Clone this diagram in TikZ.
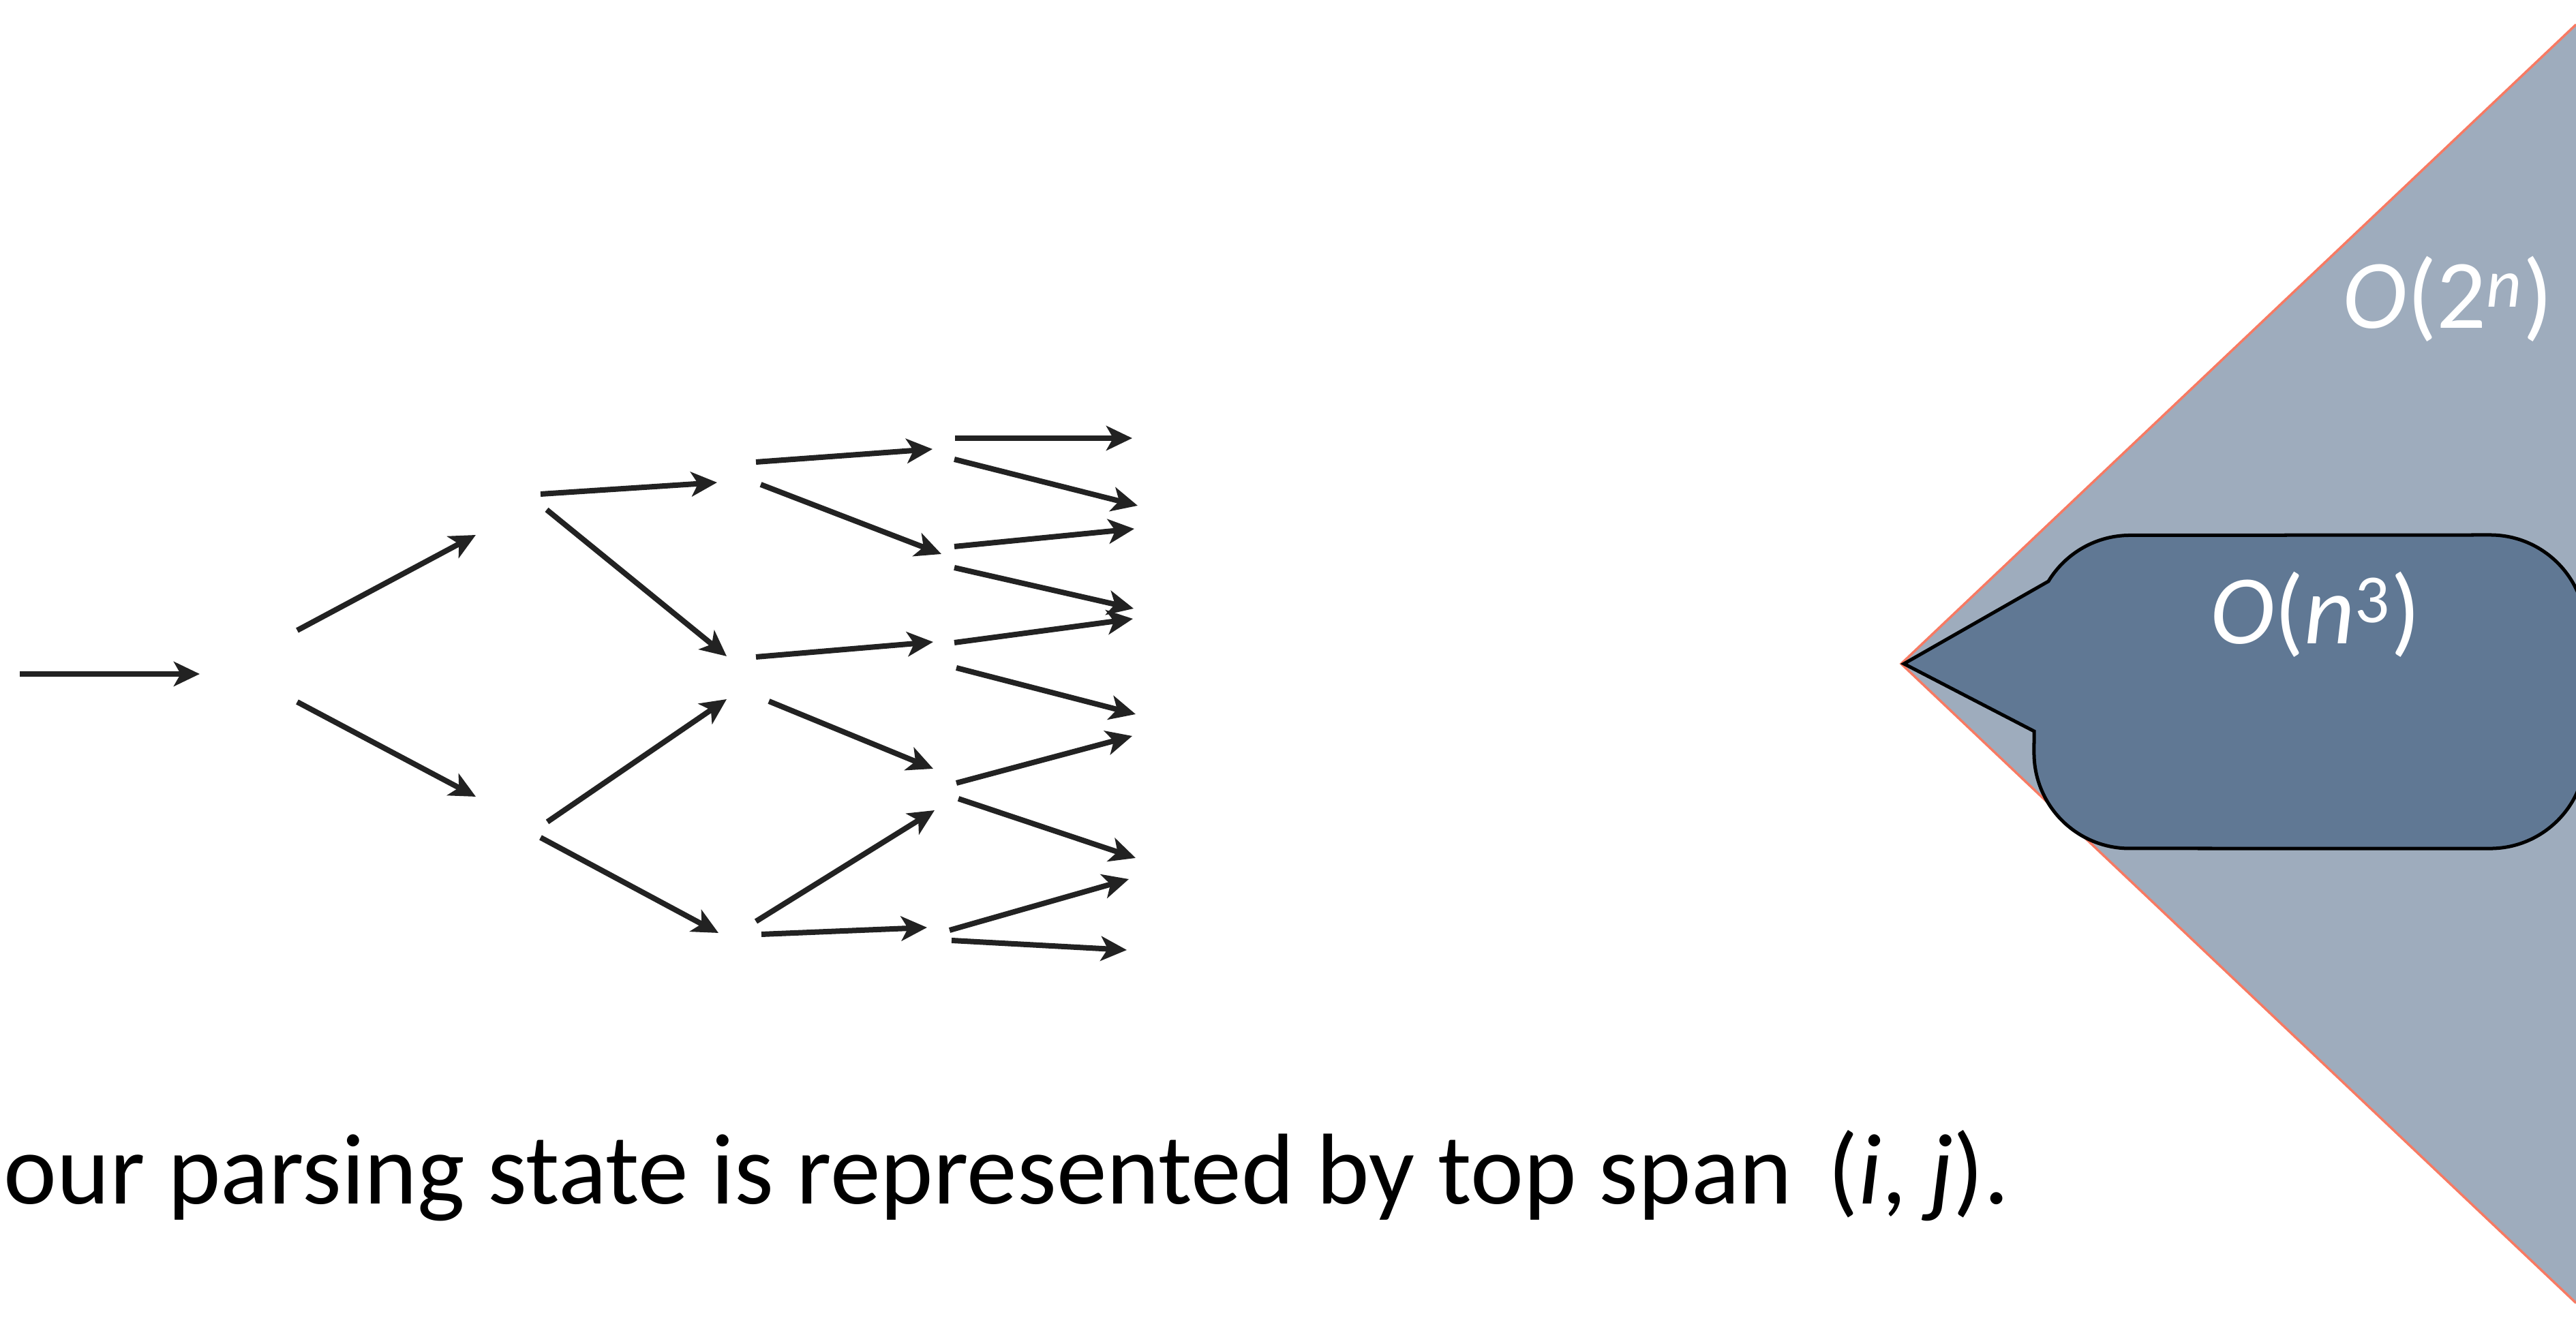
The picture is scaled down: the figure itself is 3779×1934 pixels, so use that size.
\documentclass[tikz,border=0pt]{standalone}
\usepackage{fontspec}
\setmainfont{Carlito}
\usetikzlibrary{arrows.meta}
\definecolor{arrowink}{HTML}{222222}
\definecolor{wedgefill}{HTML}{9EACBD}
\definecolor{wedgeedge}{HTML}{F77A63}
\definecolor{bubblefill}{HTML}{607894}
\begin{document}
\begin{tikzpicture}[x=0.01cm,y=0.01cm,
  branch/.style={draw=arrowink, line width=0.08cm,
    -{Stealth[length=0.38cm,width=0.36cm,inset=0.1cm]}},
  bigtext/.style={inner sep=0pt, font=\fontsize{42}{50}\selectfont},
  whitetext/.style={inner sep=0pt, font=\fontsize{41}{48}\selectfont, text=white, anchor=base}]
\useasboundingbox (0,0) rectangle (3779,1934);

% search tree: every branch is an arrow between two named points
\foreach \k/\sx/\sy/\ex/\ey in {
    1/29/945/293/945,
    2/436/1009/698/1149,   3/436/904/698/765,
    4/793/1209/1052/1226,  5/802/1186/1066/971,
    6/803/728/1066/908,    7/793/705/1054/565,
    8/1109/1256/1368/1275, 9/1116/1223/1381/1121,
    10/1109/970/1369/992,  11/1128/905/1369/806,
    12/1109/582/1371/745,  13/1117/563/1360/573,
    14/1401/1291/1661/1291,15/1400/1260/1669/1192,
    16/1400/1132/1664/1158,17/1400/1101/1663/1041,
    18/1400/991/1662/1026, 19/1403/954/1666/886,
    20/1403/785/1661/854,  21/1406/762/1666/675,
    22/1393/569/1656/644,  23/1396/554/1653/540}{
  \coordinate (s\k) at (\sx,\sy);
  \coordinate (e\k) at (\ex,\ey);
  \draw[branch] (s\k) -- (e\k);
}

% exponential wedge and the cubic speech bubble
\begin{scope}
  \clip (0,0) rectangle (3779,1934);
  \coordinate (apex) at (2789,960);
  \coordinate (wtop) at (3779,1898);
  \coordinate (wbot) at (3779,22);
  \fill[wedgefill] (apex) -- (wtop) -- (wbot) -- cycle;
  \draw[wedgeedge, line width=0.035cm, line join=miter] (wtop) -- (apex) -- (wbot);

  \coordinate (tip) at (2793,960);
  \coordinate (tailtop) at (3005,1081);
  \coordinate (tailbot) at (2984,861);
  \draw[fill=bubblefill, draw=black, line width=0.05cm, line join=miter]
    (tip) -- (tailtop)
    arc[start angle=148.8, end angle=90, radius=1.4cm]
    -- (3653,1149) arc[start angle=90, end angle=0, radius=1.4cm]
    -- (3793,829) arc[start angle=0, end angle=-90, radius=1.4cm]
    -- (3124,689) arc[start angle=-90, end angle=-180, radius=1.4cm]
    -- (tailbot) -- cycle;
\end{scope}

\node[whitetext] (expo) at (3591,1452) {\textit{O}(2\textsuperscript{\textit{n}})};
\node[whitetext] (cubic) at (3397,989) {\textit{O}(\textit{n}\textsuperscript{3})};

\node[bigtext, anchor=base west] (caption) at (5,167)
  {our parsing state is represented by top span\hspace{0.35em}(\textit{i}, \textit{j}).};
\end{tikzpicture}
\end{document}
